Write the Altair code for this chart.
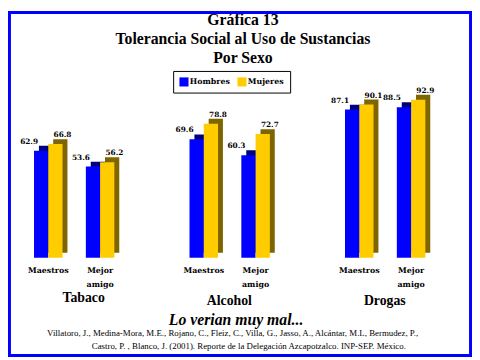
import altair as alt
import pandas as pd

groups = ["Tabaco", "Alcohol", "Drogas"]
who = ["Maestros", "Mejor amigo"]
series = ["Hombres", "Mujeres"]
hombres = [62.9, 53.6, 69.6, 60.3, 87.1, 88.5]
mujeres = [66.8, 56.2, 78.8, 72.7, 90.1, 92.9]
title_lines = ["Gráfica 13", "Tolerancia Social al Uso de Sustancias", "Por Sexo"]
subtitle = "Lo verian muy mal..."
source_lines = [
    "Villatoro, J., Medina-Mora, M.E., Rojano, C., Fleiz, C., Villa, G., Jasso, A., Alcántar, M.L, Bermudez, P.,",
    "Castro, P. , Blanco, J. (2001). Reporte de la Delegación Azcapotzalco. INP-SEP. México.",
]

front_colors = ["#0000FF", "#FFCC00"]
shade_colors = ["#00007A", "#7F6500"]

rows = []
for gi, g in enumerate(groups):
    for wi, w in enumerate(who):
        i = gi * 2 + wi
        for si, (s, vals) in enumerate(zip(series, [hombres, mujeres])):
            rows.append({"group": g, "who": w, "slot": f"{g}|{w}",
                         "label": w.replace(" ", "\n"), "sex": s,
                         "value": vals[i], "shade": shade_colors[si]})
df = pd.DataFrame(rows)

slots = []
for gi, g in enumerate(groups):
    if gi:
        slots.append(f"gap{gi}")
    for w in who:
        slots.append(f"{g}|{w}")

SERIF = "Liberation Serif"
SMALL = "DejaVu Serif"
BAND = 29
DEPTH = 5

X = alt.X("slot:N", scale=alt.Scale(domain=slots, range=[14.6, 436.4],
                                    paddingInner=0.45, paddingOuter=0.225), axis=None)
XO = alt.XOffset("sex:N", scale=alt.Scale(domain=series, range=[0, BAND],
                                          paddingInner=0, paddingOuter=0))
XO_SH = alt.XOffset("sex:N", scale=alt.Scale(domain=series, range=[DEPTH, BAND + DEPTH],
                                             paddingInner=0, paddingOuter=0))
Y = alt.Y("value:Q", scale=alt.Scale(domain=[0, 100], range=[251, 78], nice=False, zero=True), axis=None)

base = alt.Chart(df)

shadow = base.mark_bar(yOffset=-DEPTH, y2Offset=-DEPTH).encode(
    x=X, xOffset=XO_SH, y=Y, color=alt.Color("shade:N", scale=None))

front = base.mark_bar().encode(
    x=X, xOffset=XO, y=Y,
    color=alt.Color("sex:N", scale=alt.Scale(domain=series, range=front_colors),
                    legend=alt.Legend(title=None, orient="none", legendX=168, legendY=61,
                                      direction="horizontal", strokeColor="black",
                                      fillColor="white", padding=6,
                                      symbolType="square", symbolSize=85,
                                      symbolStrokeWidth=0, symbolOpacity=1,
                                      labelFont=SMALL, labelFontWeight="bold",
                                      labelFontSize=8, labelColor="black",
                                      columnPadding=7, labelOffset=1)))

lab_h = base.transform_filter(alt.datum.sex == "Hombres").mark_text(
    dx=-5, dy=-9, baseline="middle", font=SMALL, fontWeight="bold", fontSize=7.5, color="black"
).encode(x=X, xOffset=XO, y=Y, text=alt.Text("value:Q", format=".1f"))
lab_m = base.transform_filter(alt.datum.sex == "Mujeres").mark_text(
    dx=0, dy=-9, baseline="middle", font=SMALL, fontWeight="bold", fontSize=7.5, color="black"
).encode(x=X, xOffset=XO, y=Y, text=alt.Text("value:Q", format=".1f"))

cats = base.transform_filter(alt.datum.sex == "Hombres").mark_text(
    lineBreak="\n", lineHeight=14, baseline="alphabetic", font=SMALL, fontWeight="bold",
    fontSize=8, color="black"
).encode(x=X, y=alt.value(267), text="label:N")

grp_first = base.transform_filter(
    (alt.datum.sex == "Hombres") & (alt.datum.who == "Maestros") & (alt.datum.group == "Tabaco")
).mark_text(dx=36, baseline="alphabetic", font=SERIF, fontWeight="bold", fontSize=14, color="black"
).encode(x=X, y=alt.value(296), text="group:N")
grp_rest = base.transform_filter(
    (alt.datum.sex == "Hombres") & (alt.datum.who == "Maestros") & (alt.datum.group != "Tabaco")
).mark_text(dx=26, baseline="alphabetic", font=SERIF, fontWeight="bold", fontSize=14, color="black"
).encode(x=X, y=alt.value(299.5), text="group:N")


def text_layer(t, x, y, size, weight="normal", style="normal"):
    return alt.Chart(pd.DataFrame({"t": [t]})).mark_text(
        baseline="alphabetic", align="center", font=SERIF, fontSize=size,
        fontWeight=weight, fontStyle=style, color="black"
    ).encode(x=alt.value(x), y=alt.value(y), text="t:N")


titles = [
    text_layer(title_lines[0], 239, 14.5, 16, "bold"),
    text_layer(title_lines[1], 239, 34, 16, "bold"),
    text_layer(title_lines[2], 239, 52.5, 16, "bold"),
]
sub = text_layer(subtitle, 232, 319, 16, "bold", "italic")
src = [
    text_layer(source_lines[0], 228.5, 331, 9),
    text_layer(source_lines[1], 245, 344, 9),
]

border = alt.Chart(pd.DataFrame({"a": [0]})).mark_rect(
    fillOpacity=0, stroke="#0000FF", strokeWidth=3
).encode(x=alt.value(1.5), x2=alt.value(470.5), y=alt.value(1.5), y2=alt.value(350.5))

chart = alt.layer(
    shadow, front, lab_h, lab_m, cats, grp_first, grp_rest, *titles, sub, *src, border
).resolve_scale(xOffset="independent").properties(
    width=472, height=352, autosize=alt.AutoSizeParams(type="none"), padding=0,
    background="white"
).configure_view(stroke=None)

chart.save("out.html", embed_options={"renderer": "svg", "actions": False})
